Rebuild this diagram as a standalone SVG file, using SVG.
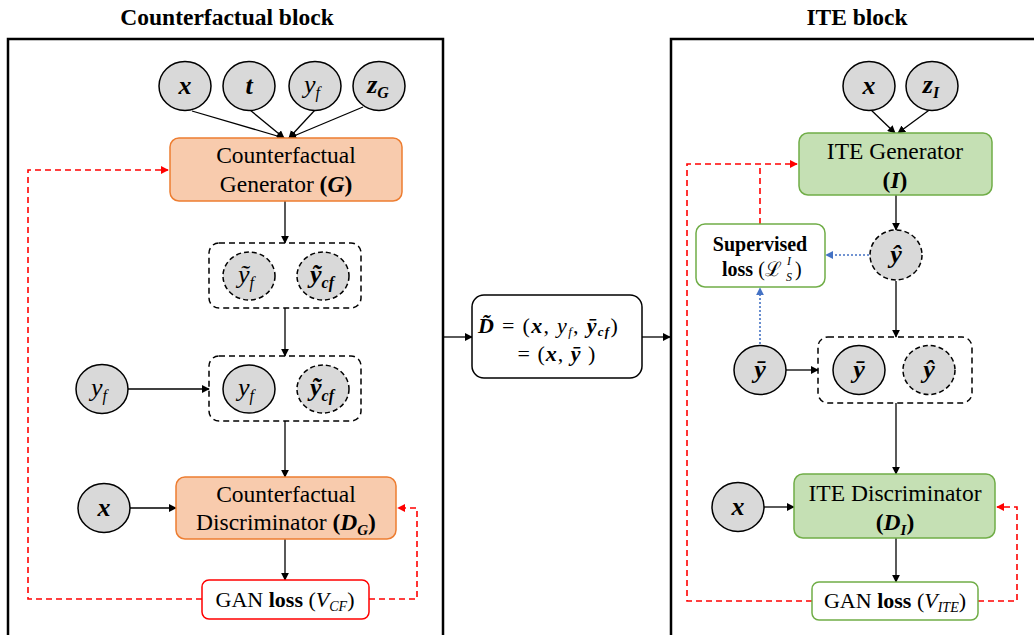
<svg xmlns="http://www.w3.org/2000/svg" width="1034" height="635" viewBox="0 0 1034 635">
<defs>
<style>
.frame{fill:none;stroke:#000;stroke-width:2.5}
.circ{fill:#D9D9D9;stroke:#000;stroke-width:1.5}
.dcirc{fill:#D9D9D9;stroke:#000;stroke-width:1.5;stroke-dasharray:5,3}
.dbox{fill:none;stroke:#000;stroke-width:1.5;stroke-dasharray:6,4}
.orange{fill:#F8CBAD;stroke:#ED7D31;stroke-width:1.5}
.green{fill:#C5E0B4;stroke:#70AD47;stroke-width:1.5}
.wgreen{fill:#fff;stroke:#70AD47;stroke-width:1.5}
.wred{fill:#fff;stroke:#FF0000;stroke-width:1.5}
.wblack{fill:#fff;stroke:#000;stroke-width:1.5}
.edge{stroke:#000;stroke-width:1.3;fill:none;marker-end:url(#ab)}
.red{stroke:#FF0000;stroke-width:1.6;stroke-dasharray:6,4;fill:none}
.reda{marker-end:url(#ar)}
.blue{stroke:#4472C4;stroke-width:1.6;stroke-dasharray:2,2;fill:none;marker-end:url(#abl)}
text{font-family:"Liberation Serif","DejaVu Serif",serif;fill:#000}
.t{font-size:23.5px;text-anchor:middle}
.g{font-size:22px;text-anchor:middle}
.title{font-size:23.5px;font-weight:bold;text-anchor:middle}
.m{font-size:26px;text-anchor:middle;font-style:italic}
.b{font-weight:bold}
.i{font-style:italic}
</style>
<marker id="ab" viewBox="0 0 10 10" refX="9" refY="5" markerWidth="8" markerHeight="8" markerUnits="userSpaceOnUse" orient="auto"><path d="M0,0 L10,5 L0,10 z" fill="#000"/></marker>
<marker id="ar" viewBox="0 0 10 10" refX="9" refY="5" markerWidth="8" markerHeight="8" markerUnits="userSpaceOnUse" orient="auto"><path d="M0,0 L10,5 L0,10 z" fill="#FF0000"/></marker>
<marker id="abl" viewBox="0 0 10 10" refX="9" refY="5" markerWidth="8" markerHeight="8" markerUnits="userSpaceOnUse" orient="auto"><path d="M0,0 L10,5 L0,10 z" fill="#4472C4"/></marker>
</defs>
<rect width="1034" height="635" fill="#fff"/>

<g id="titles">
<text class="title" x="227" y="25">Counterfactual block</text>
<text class="title" x="857" y="25">ITE block</text>
</g>

<g id="frames">
<rect class="frame" x="8" y="39" width="435" height="620"/>
<rect class="frame" x="671" y="39" width="420" height="620"/>
</g>

<g id="connectors">
<line class="edge" x1="192" y1="111" x2="284" y2="138"/>
<line class="edge" x1="250" y1="110" x2="284" y2="138"/>
<line class="edge" x1="315" y1="110" x2="289" y2="138"/>
<line class="edge" x1="363" y1="107" x2="289" y2="138"/>
<line class="edge" x1="285" y1="201" x2="285" y2="243"/>
<line class="edge" x1="285" y1="308" x2="285" y2="356"/>
<line class="edge" x1="128" y1="389" x2="209" y2="389"/>
<line class="edge" x1="285" y1="421" x2="285" y2="477"/>
<line class="edge" x1="130" y1="508" x2="176" y2="508"/>
<line class="edge" x1="285" y1="539" x2="285" y2="580"/>
<path class="red reda" d="M202,599 H28 V170 H168"/>
<path class="red reda" d="M369,599 H417 V508 H398"/>
<line class="edge" x1="443" y1="337" x2="472" y2="337"/>
<line class="edge" x1="642" y1="337" x2="670" y2="337"/>
<line class="edge" x1="869" y1="108" x2="895" y2="133"/>
<line class="edge" x1="932" y1="108" x2="898" y2="133"/>
<line class="edge" x1="896" y1="195" x2="896" y2="230"/>
<line class="edge" x1="896" y1="281" x2="896" y2="337"/>
<line class="edge" x1="786" y1="370" x2="818" y2="370"/>
<line class="edge" x1="896" y1="403" x2="896" y2="474"/>
<line class="edge" x1="764" y1="507" x2="794" y2="507"/>
<line class="edge" x1="896" y1="538" x2="896" y2="582"/>
<path class="red reda" d="M812,601 H687 V164 H797"/>
<path class="red" d="M760,224 V164"/>
<path class="red reda" d="M978,601 H1017 V507 H997"/>
<line class="blue" x1="869" y1="255" x2="826" y2="255"/>
<line class="blue" x1="760" y1="344" x2="760" y2="288"/>
</g>

<g id="in-x"><ellipse class="circ" cx="185" cy="86" rx="26" ry="24.5"/><text class="m b" x="185" y="94">x</text></g>
<g id="in-t"><ellipse class="circ" cx="249" cy="86" rx="26" ry="24.5"/><text class="m b" x="249" y="94">t</text></g>
<g id="in-yf"><ellipse class="circ" cx="315" cy="86" rx="26" ry="24.5"/><text class="m" x="312" y="93">y<tspan font-size="16" dy="5">f</tspan></text></g>
<g id="in-zG"><ellipse class="circ" cx="379" cy="86" rx="26" ry="24.5"/><text class="m b" x="378" y="93">z<tspan font-size="16" dy="5">G</tspan></text></g>

<g id="cf-generator"><rect class="orange" x="170" y="138" width="232" height="63" rx="9"/>
<text class="t" x="286" y="163">Counterfactual</text>
<text class="t" x="286" y="192">Generator <tspan class="b">(</tspan><tspan class="b i">G</tspan><tspan class="b">)</tspan></text></g>

<g id="gen-out"><rect class="dbox" x="209" y="243" width="152" height="65" rx="10"/>
<ellipse class="dcirc" cx="249" cy="276" rx="26" ry="24"/><text class="m" x="246" y="283">ỹ<tspan font-size="16" dy="5">f</tspan></text>
<ellipse class="dcirc" cx="323" cy="276" rx="26" ry="24"/><text class="m b" x="322" y="283">ỹ<tspan font-size="16" dy="5">cf</tspan></text></g>

<g id="yf-left"><ellipse class="circ" cx="102" cy="389" rx="26" ry="24.5"/><text class="m" x="99" y="396">y<tspan font-size="16" dy="5">f</tspan></text></g>

<g id="disc-in"><rect class="dbox" x="209" y="356" width="152" height="65" rx="10"/>
<ellipse class="circ" cx="249" cy="389" rx="26" ry="24"/><text class="m" x="246" y="396">y<tspan font-size="16" dy="5">f</tspan></text>
<ellipse class="dcirc" cx="323" cy="389" rx="26" ry="24"/><text class="m b" x="322" y="396">ỹ<tspan font-size="16" dy="5">cf</tspan></text></g>

<g id="x-left"><ellipse class="circ" cx="104" cy="508" rx="26" ry="24.5"/><text class="m b" x="104" y="516">x</text></g>

<g id="cf-discriminator"><rect class="orange" x="176" y="477" width="220" height="62" rx="9"/>
<text class="t" x="286" y="502">Counterfactual</text>
<text class="t" x="286" y="530">Discriminator <tspan class="b">(</tspan><tspan class="b i">D</tspan><tspan class="b i" font-size="15" dy="5">G</tspan><tspan class="b" dy="-5">)</tspan></text></g>

<g id="gan-loss-cf"><rect class="wred" x="202" y="580" width="167" height="39" rx="7"/>
<text class="g" x="285" y="607">GAN <tspan class="b">loss</tspan> (<tspan class="i">V</tspan><tspan class="i" font-size="14" dy="4">CF</tspan><tspan dy="-4">)</tspan></text></g>

<g id="dataset"><rect class="wblack" x="472" y="295" width="170" height="83" rx="12"/>
<text x="478" y="333" font-size="22" letter-spacing="1.3"><tspan class="b i">D̃</tspan> = (<tspan class="b i">x</tspan>, <tspan class="i">y</tspan><tspan class="i" font-size="13" dy="3">f</tspan><tspan dy="-3">, </tspan><tspan class="b i">ȳ</tspan><tspan class="b i" font-size="13" dy="3">cf</tspan><tspan dy="-3">)</tspan></text>
<text x="557" y="361" font-size="22" text-anchor="middle" letter-spacing="1">= (<tspan class="b i">x</tspan>, <tspan class="b i">ȳ</tspan> )</text></g>

<g id="in-x-ite"><ellipse class="circ" cx="869" cy="86" rx="26" ry="24.5"/><text class="m b" x="869" y="94">x</text></g>
<g id="in-zI"><ellipse class="circ" cx="932" cy="86" rx="26" ry="24.5"/><text class="m b" x="931" y="93">z<tspan font-size="16" dy="5">I</tspan></text></g>

<g id="ite-generator"><rect class="green" x="799" y="133" width="193" height="62" rx="9"/>
<text class="t" x="895" y="159">ITE Generator</text>
<text class="t b" x="895" y="188">(<tspan class="i">I</tspan>)</text></g>

<g id="yhat"><ellipse class="dcirc" cx="896" cy="255" rx="26" ry="25"/><text class="m b" x="896" y="263">ŷ</text></g>

<g id="supervised-loss"><rect class="wgreen" x="696" y="224" width="129" height="63" rx="9"/>
<text class="b" x="760" y="251" font-size="20" text-anchor="middle">Supervised</text>
<text x="722" y="276" font-size="20"><tspan class="b">loss</tspan> (ℒ</text>
<text class="i" x="786" y="281" font-size="12">S</text>
<text class="i" x="787" y="265" font-size="12">I</text>
<text x="795" y="276" font-size="20">)</text></g>

<g id="ybar-left"><ellipse class="circ" cx="760" cy="370" rx="26" ry="24.5"/><text class="m b" x="760" y="378">ȳ</text></g>

<g id="ite-disc-in"><rect class="dbox" x="818" y="337" width="154" height="66" rx="10"/>
<ellipse class="circ" cx="859" cy="370" rx="26" ry="24.5"/><text class="m b" x="859" y="378">ȳ</text>
<ellipse class="dcirc" cx="929" cy="370" rx="26" ry="24.5"/><text class="m b" x="929" y="378">ŷ</text></g>

<g id="x-ite"><ellipse class="circ" cx="738" cy="507" rx="26" ry="24.5"/><text class="m b" x="738" y="515">x</text></g>

<g id="ite-discriminator"><rect class="green" x="794" y="474" width="201" height="64" rx="9"/>
<text class="t" x="895" y="501">ITE Discriminator</text>
<text class="t b" x="895" y="530">(<tspan class="i">D</tspan><tspan class="i" font-size="15" dy="5">I</tspan><tspan dy="-5">)</tspan></text></g>

<g id="gan-loss-ite"><rect class="wgreen" x="812" y="582" width="166" height="38" rx="7"/>
<text class="g" x="895" y="608">GAN <tspan class="b">loss</tspan> (<tspan class="i">V</tspan><tspan class="i" font-size="14" dy="4">ITE</tspan><tspan dy="-4">)</tspan></text></g>
</svg>
